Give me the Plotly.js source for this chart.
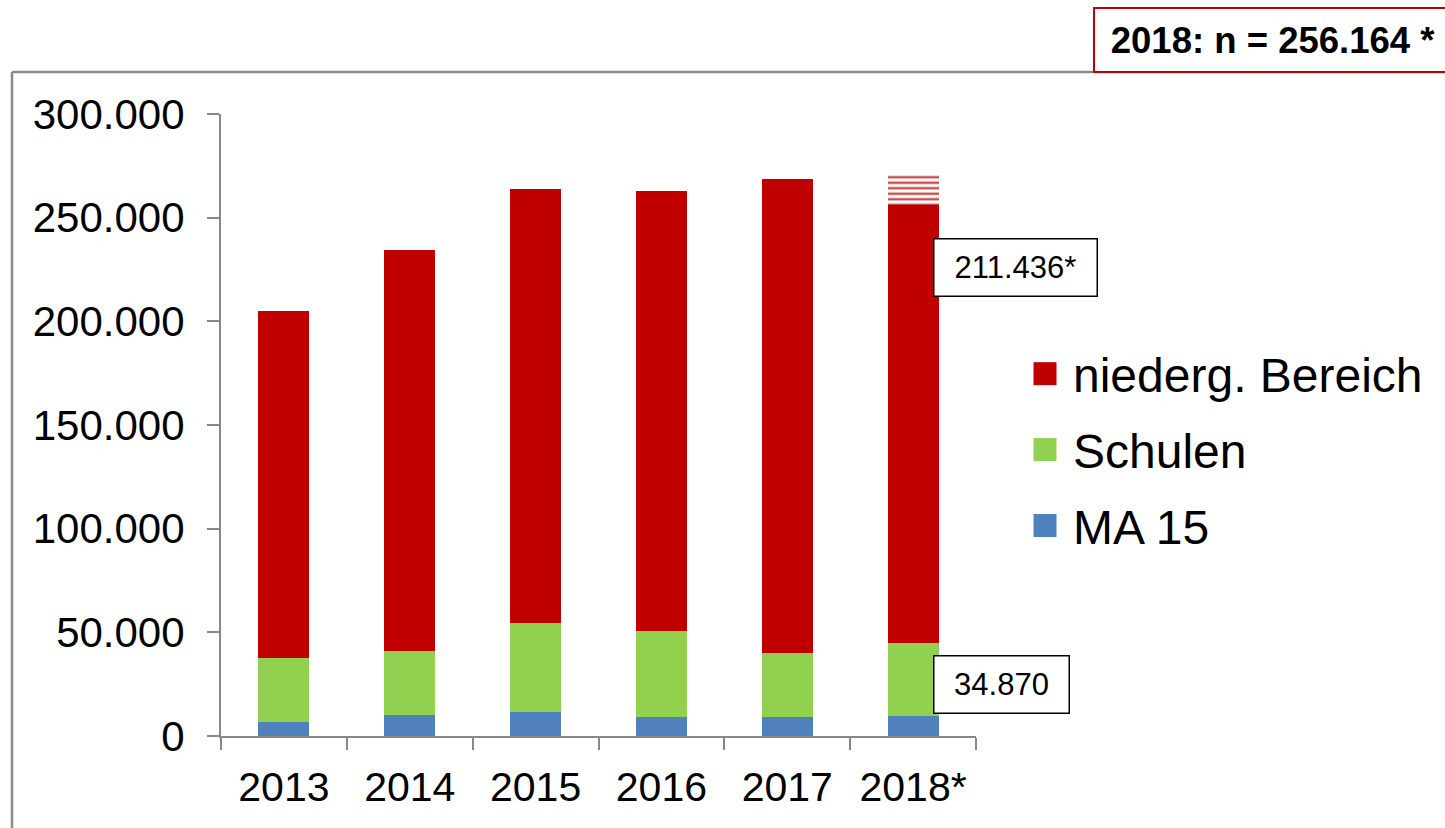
<!DOCTYPE html>
<html>
<head>
<meta charset="utf-8">
<script src="https://cdn.plot.ly/plotly-3.0.1.min.js"></script>
<style>html,body{margin:0;padding:0;background:#fff;}#chart{width:1445px;height:828px;}</style>
</head>
<body>
<div id="chart"></div>
<script>
// ---- data ----
const years = ["2013", "2014", "2015", "2016", "2017", "2018*"];
const ma15 = [6750, 10100, 11600, 9200, 9200, 9858];
const schulen = [30870, 30900, 42900, 41400, 30800, 34870];
const niederg = [167380, 193400, 209300, 212300, 228600, 211436];
const projection = [null, null, null, null, null, 14400];
const seriesNames = ["MA 15", "Schulen", "niederg. Bereich"];
const seriesColors = ["#4F81BD", "#92D050", "#C00000"];
const labelNiederg = "211.436*";
const labelSchulen = "34.870";
const totalLabel = "2018: n = 256.164 *";

// ---- layout geometry (plot area in px) ----
const W = 1445, H = 828;
const L = 221, R = 976, T = 114, B = 736;
const px = x => (x - L) / (R - L);
const py = y => (B - y) / (B - T);

const font = "Liberation Sans, Arial, sans-serif";
const axisGray = "#888888";

const seriesData = [ma15, schulen, niederg];
const traces = seriesData.map((vals, i) => ({
  type: "bar",
  x: years,
  y: vals,
  name: seriesNames[i],
  legendgroup: "g" + i,
  legendrank: 3 - i,
  marker: {color: seriesColors[i], line: {width: 0}},
  hoverinfo: "skip"
}));
traces.push({
  type: "bar",
  x: years,
  y: projection,
  name: "Hochrechnung",
  showlegend: false,
  hoverinfo: "skip",
  marker: {
    color: "white",
    line: {width: 0},
    pattern: {shape: "-", fgcolor: "#C9504F", bgcolor: "white", size: 5.5, solidity: 0.45, fillmode: "replace"}
  }
});

const layout = {
  width: W, height: H,
  margin: {l: L, r: W - R, t: T, b: H - B, pad: 0},
  paper_bgcolor: "white",
  plot_bgcolor: "white",
  barmode: "stack",
  bargap: 0.595,
  separators: ",.",
  font: {family: font, color: "#000"},
  showlegend: true,
  legend: {
    x: px(1033), xanchor: "left",
    y: py(336), yanchor: "top",
    traceorder: "grouped",
    tracegroupgap: 10.5,
    font: {family: font, size: 48, color: "#000"},
    bgcolor: "rgba(0,0,0,0)",
    borderwidth: 0
  },
  xaxis: {
    type: "category",
    range: [-0.5, 5.5],
    showline: true, linecolor: axisGray, linewidth: 2,
    ticks: "outside", tickson: "boundaries", ticklen: 12, tickwidth: 2, tickcolor: axisGray,
    tickfont: {family: font, size: 41, color: "#000"},
    ticklabelstandoff: 14,
    showgrid: false, zeroline: false, fixedrange: true
  },
  yaxis: {
    range: [0, 300000],
    dtick: 50000, tick0: 0,
    tickformat: ",d",
    showline: true, linecolor: axisGray, linewidth: 2,
    ticks: "outside", ticklen: 12, tickwidth: 2, tickcolor: axisGray,
    tickfont: {family: font, size: 42, color: "#000"},
    ticklabelstandoff: 14,
    showgrid: false, zeroline: false, fixedrange: true
  },
  shapes: [
    // outer chart frame (top and left edge)
    {type: "line", xref: "paper", yref: "paper", x0: px(12), x1: px(1446), y0: py(72), y1: py(72), line: {color: "#8a8a8a", width: 2.5}},
    {type: "line", xref: "paper", yref: "paper", x0: px(12), x1: px(12), y0: py(72), y1: py(829), line: {color: "#8a8a8a", width: 2.5}}
  ],
  annotations: [
    {
      xref: "paper", yref: "paper", x: px(1015), y: py(267), xanchor: "center", yanchor: "middle",
      text: labelNiederg, showarrow: false,
      font: {family: font, size: 31, color: "#000"},
      bgcolor: "white", bordercolor: "#000", borderwidth: 1.5, borderpad: 2,
      width: 158, height: 52
    },
    {
      xref: "paper", yref: "paper", x: px(1001), y: py(684), xanchor: "center", yanchor: "middle",
      text: labelSchulen, showarrow: false,
      font: {family: font, size: 31, color: "#000"},
      bgcolor: "white", bordercolor: "#000", borderwidth: 1.5, borderpad: 2,
      width: 130, height: 52
    },
    {
      xref: "paper", yref: "paper", x: px(1093), y: py(40), xanchor: "left", yanchor: "middle",
      text: "<b>" + totalLabel + "</b>", showarrow: false, align: "center",
      font: {family: font, size: 36.5, color: "#000"},
      bgcolor: "white", bordercolor: "#C00000", borderwidth: 2, borderpad: 2,
      width: 352, height: 58
    }
  ]
};

Plotly.newPlot("chart", traces, layout, {displayModeBar: false, staticPlot: true}).then(gd => {
  // draw legend swatches as larger squares like the reference
  gd.querySelectorAll(".legend .legendpoints path").forEach(p => {
    p.setAttribute("d", "M0.5,-11.5H23.5V11.5H0.5Z");
    p.removeAttribute("transform");
  });
});
</script>
</body>
</html>
